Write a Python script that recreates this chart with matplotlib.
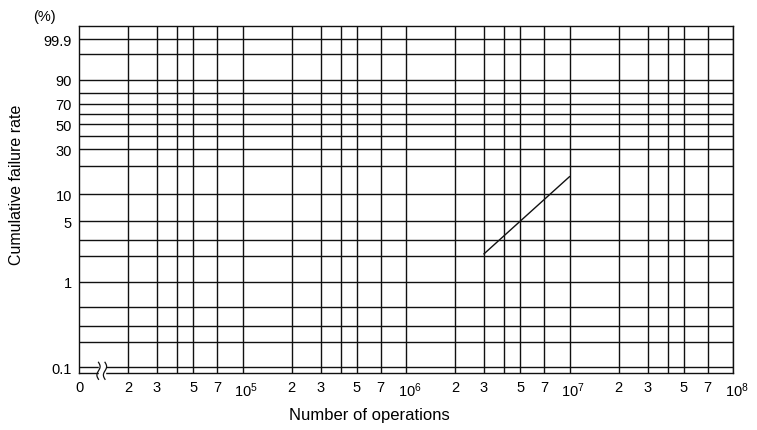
import numpy as np
import matplotlib
matplotlib.use("Agg")
import matplotlib.pyplot as plt
import matplotlib.transforms as mtransforms
from matplotlib import font_manager

# data
ops = [3e6, 1e7]            # number of operations
fail_pct = [2.1, 15.6]      # cumulative failure rate (%)

y_grid = [0.1, 0.2, 0.3, 0.5, 1, 2, 3, 5, 10, 20, 30, 40, 50, 60, 70, 80, 90, 99, 99.9]
y_labels = {0.1: "0.1", 1: "1", 5: "5", 10: "10", 30: "30", 50: "50", 70: "70", 90: "90", 99.9: "99.9"}
x_mult = [2, 3, 4, 5, 7]
x_decades = [4, 5, 6, 7]

names = {f.name for f in font_manager.fontManager.ttflist}
font = "Liberation Sans Narrow" if "Liberation Sans Narrow" in names else "Liberation Sans"
plt.rcParams["font.family"] = [font, "DejaVu Sans"]
plt.rcParams["mathtext.fontset"] = "custom"
plt.rcParams["mathtext.rm"] = font
plt.rcParams["mathtext.it"] = font


def weib(p):
    p = np.clip(np.asarray(p, dtype=float), 1e-6, 100 - 1e-9)
    return np.log(-np.log(1 - p / 100.0))


def weib_inv(w):
    return 100.0 * (1 - np.exp(-np.exp(np.asarray(w, dtype=float))))


fig = plt.figure(figsize=(7.57, 4.31), dpi=100)
ax = fig.add_axes([79 / 757, 1 - 374.3 / 431, 654 / 757, 347.6 / 431])

ax.set_xscale("log")
ax.set_yscale("function", functions=(weib, weib_inv))
ax.set_xlim(1e4, 1e8)
ax.set_ylim(weib_inv(-7.069), weib_inv(2.291))

# grid lines
lc = "#111111"
for p in y_grid:
    ax.axhline(p, color=lc, lw=1.0, zorder=1)
xt, xl = [1e4], ["0"]
for d in x_decades:
    for m in x_mult:
        v = m * 10 ** d
        ax.axvline(v, color=lc, lw=1.0, zorder=1)
        xt.append(v)
        xl.append("" if m == 4 else str(m))
    ax.axvline(10 ** (d + 1), color=lc, lw=1.0, zorder=1)
    xt.append(10 ** (d + 1))
    xl.append(r"$\mathrm{10}^{\mathrm{%d}}$" % (d + 1))

ax.set_xticks(xt)
ax.set_xticklabels(xl, fontsize=10.5)
ax.xaxis.set_minor_locator(matplotlib.ticker.NullLocator())
ax.set_yticks(y_grid)
ax.set_yticklabels([y_labels.get(p, "") for p in y_grid], fontsize=10.5)
ax.yaxis.set_minor_locator(matplotlib.ticker.NullLocator())
ax.tick_params(length=0, pad=5)
for s in ax.spines.values():
    s.set_color(lc)
    s.set_linewidth(1.0)

# shift the 10^n labels so that "10" sits centred on its line
shift = mtransforms.ScaledTranslation(3.5 / 100, 0, fig.dpi_scale_trans)
for lab in ax.get_xticklabels():
    if lab.get_text().startswith("$"):
        lab.set_transform(lab.get_transform() + shift)

ax.plot(ops, fail_pct, color=lc, lw=1.0, zorder=2)

# axis break on the bottom-left
aw, ah = 654.0, 347.6
ax.add_patch(plt.Rectangle(((98.5 - 79) / aw, -0.01), 6.5 / aw, 0.04,
                           transform=ax.transAxes, color="white", zorder=3, clip_on=False))
s = np.linspace(0, 1, 40)
for x0 in [98.5, 105.0]:
    bx = (x0 - 79 + 1.6 * np.sin(2 * np.pi * s)) / aw
    by = (11 - 17 * s) / ah
    ax.plot(bx, by, color=lc, lw=0.9, transform=ax.transAxes, clip_on=False, zorder=4)

fig.text(44 / 757, 1 - 17 / 431, "(%)", fontsize=10.5, ha="center", va="center")
fig.text(17 / 757, 1 - 184.5 / 431, "Cumulative failure rate", fontsize=11.5,
         rotation=90, ha="center", va="center")
fig.text(369.5 / 757, 1 - 416 / 431, "Number of operations", fontsize=12,
         ha="center", va="center")

fig.savefig("out.png", dpi=100)
